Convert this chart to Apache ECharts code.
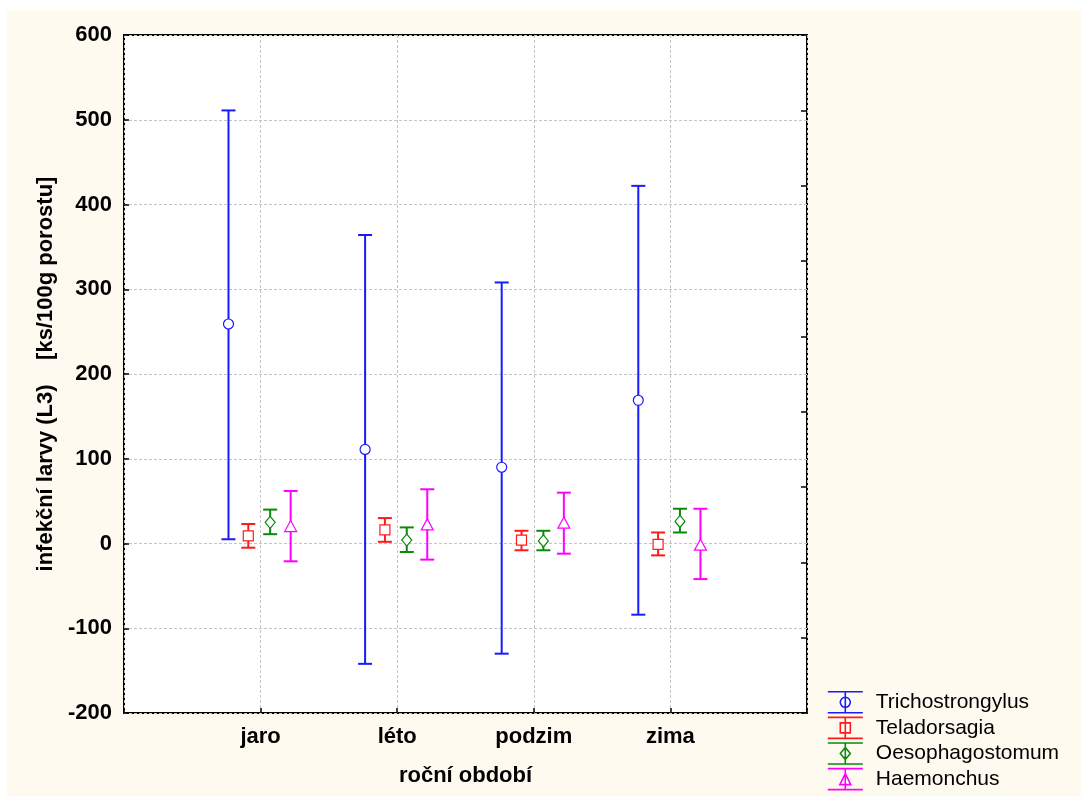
<!DOCTYPE html>
<html>
<head>
<meta charset="utf-8">
<script src="https://cdn.jsdelivr.net/npm/echarts@6/dist/echarts.min.js"></script>
<style>
  body { margin: 0; background: #ffffff; }
  #main { position: absolute; left: 7px; top: 10px; width: 1074px; height: 786px; background: #fffaef; }
</style>
</head>
<body>
<div id="main"></div>
<script>
// roční období
var categories = ['jaro', 'léto', 'podzim', 'zima'];

// Trichostrongylus
var trichMean = [259, 111, 90, 169];
var trichLow = [5, -142, -130, -84];
var trichHigh = [511, 364, 308, 422];

// Teladorsagia
var telaMean = [9, 16, 4, -1];
var telaLow = [-5, 2, -8, -14];
var telaHigh = [23, 30, 15, 13];

// Oesophagostomum
var oesoMean = [25, 4, 3, 26];
var oesoLow = [11, -10, -8, 13];
var oesoHigh = [40, 19, 15, 41];

// Haemonchus
var haemMean = [20, 22, 24, -2];
var haemLow = [-21, -19, -12, -42];
var haemHigh = [62, 64, 60, 41];

var yTicks = [-200, -100, 0, 100, 200, 300, 400, 500, 600];

var FONT = '"Liberation Sans", Arial, sans-serif';

var chart = echarts.init(document.getElementById('main'));

/**
 * marker shape for one point
 */
function markerShape(kind, x, y, color) {
  var st = { fill: '#fff', stroke: color, lineWidth: 1.2 };
  if (kind === 'circle') {
    return { type: 'circle', shape: { cx: x, cy: y, r: 5 }, style: st };
  }
  if (kind === 'rect') {
    return { type: 'rect', shape: { x: x - 5, y: y - 5, width: 10, height: 10 }, style: st };
  }
  if (kind === 'diamond') {
    return { type: 'polygon', shape: { points: [[x, y - 6], [x + 5, y], [x, y + 6], [x - 5, y]] }, style: st };
  }
  // triangle
  return { type: 'polygon', shape: { points: [[x, y - 6], [x + 6, y + 5], [x - 6, y + 5]] }, style: st };
}

function errorSeries(name, color, offset, kind, means, lows, highs) {
  var data = [];
  for (var i = 0; i < categories.length; i++) {
    data.push([i + 1, means[i], lows[i], highs[i]]);
  }
  return {
    name: name,
    type: 'custom',
    itemStyle: { color: color },
    encode: { x: 0, y: [1, 2, 3] },
    data: data,
    renderItem: function (params, api) {
      var x = api.value(0) + offset;
      var pm = api.coord([x, api.value(1)]);
      var pl = api.coord([x, api.value(2)]);
      var ph = api.coord([x, api.value(3)]);
      var w = 7;
      var ls = { stroke: color, lineWidth: 2 };
      return {
        type: 'group',
        children: [
          { type: 'line', shape: { x1: ph[0], y1: ph[1], x2: pl[0], y2: pl[1] }, style: ls },
          { type: 'line', shape: { x1: ph[0] - w, y1: ph[1], x2: ph[0] + w, y2: ph[1] }, style: ls },
          { type: 'line', shape: { x1: pl[0] - w, y1: pl[1], x2: pl[0] + w, y2: pl[1] }, style: ls },
          markerShape(kind, pm[0], pm[1], color)
        ]
      };
    }
  };
}

var bars = 'M0,0H35M0,21H35M17.5,0V21';
var icons = {
  circle: 'path://' + bars + 'M22.5,10.5A5,5,0,1,1,12.5,10.5A5,5,0,1,1,22.5,10.5Z',
  rect: 'path://' + bars + 'M12.5,5.5H22.5V15.5H12.5Z',
  diamond: 'path://' + bars + 'M17.5,4.5L22.5,10.5L17.5,16.5L12.5,10.5Z',
  triangle: 'path://' + bars + 'M17.5,5L23,16H12Z'
};

function legendItem(name, color, kind) {
  return {
    name: name,
    icon: icons[kind],
    itemStyle: { color: '#fff', borderColor: color, borderWidth: 1.6 }
  };
}

var option = {
  backgroundColor: 'transparent',
  animation: false,
  grid: {
    left: 117,
    top: 25,
    right: 274,
    bottom: 83,
    show: true,
    backgroundColor: '#ffffff',
    borderColor: '#000',
    borderWidth: 2
  },
  legend: {
    orient: 'vertical',
    left: 820,
    top: 681,
    width: 254,
    height: 130,
    padding: 0,
    itemWidth: 35,
    itemHeight: 21,
    itemGap: 3,
    selectedMode: false,
    textStyle: { fontFamily: FONT, fontSize: 21, lineHeight: 21, color: '#000', padding: [0, 0, 0, 8] },
    data: [
      legendItem('Trichostrongylus', '#1a1aff', 'circle'),
      legendItem('Teladorsagia', '#ff1a1a', 'rect'),
      legendItem('Oesophagostomum', '#0a8a0a', 'diamond'),
      legendItem('Haemonchus', '#ff00ff', 'triangle')
    ]
  },
  xAxis: [{
    type: 'value',
    min: 0,
    max: 5,
    interval: 1,
    name: 'roční období',
    nameLocation: 'middle',
    nameGap: 52,
    nameTextStyle: { fontFamily: FONT, fontSize: 22, fontWeight: 'bold', color: '#000' },
    axisLine: { show: false, onZero: false },
    axisTick: { show: true, inside: true, length: 5, lineStyle: { color: '#000', width: 1.5 } },
    axisLabel: {
      margin: 13,
      fontFamily: FONT, fontSize: 22, fontWeight: 'bold', color: '#000',
      formatter: function (v) { return categories[v - 1] || ''; }
    },
    splitLine: { show: true, lineStyle: { color: '#c4c4c4', type: [3, 2], width: 1 } }
  }],
  yAxis: [{
    type: 'value',
    min: yTicks[0],
    max: yTicks[yTicks.length - 1],
    interval: 100,
    name: 'infekční larvy (L3)    [ks/100g porostu]',
    nameLocation: 'middle',
    nameGap: 56,
    nameTextStyle: { fontFamily: FONT, fontSize: 22, fontWeight: 'bold', color: '#000' },
    axisLine: { show: false, onZero: false },
    axisTick: { show: true, inside: true, length: 5, lineStyle: { color: '#000', width: 1.5 } },
    axisLabel: { margin: 12, fontFamily: FONT, fontSize: 22, fontWeight: 'bold', color: '#000' },
    splitLine: { show: true, lineStyle: { color: '#c4c4c4', type: [3, 2], width: 1 } }
  }, {
    type: 'value',
    position: 'right',
    min: 0,
    max: 9,
    interval: 1,
    axisLine: { show: false, onZero: false },
    axisTick: { show: true, inside: true, length: 6, lineStyle: { color: '#000', width: 1.5 } },
    axisLabel: { show: false },
    splitLine: { show: false }
  }],
  series: [
    errorSeries('Trichostrongylus', '#1a1aff', -0.235, 'circle', trichMean, trichLow, trichHigh),
    errorSeries('Teladorsagia', '#ff1a1a', -0.09, 'rect', telaMean, telaLow, telaHigh),
    errorSeries('Oesophagostomum', '#0a8a0a', 0.07, 'diamond', oesoMean, oesoLow, oesoHigh),
    errorSeries('Haemonchus', '#ff00ff', 0.22, 'triangle', haemMean, haemLow, haemHigh)
  ]
};

chart.setOption(option);
</script>
</body>
</html>
